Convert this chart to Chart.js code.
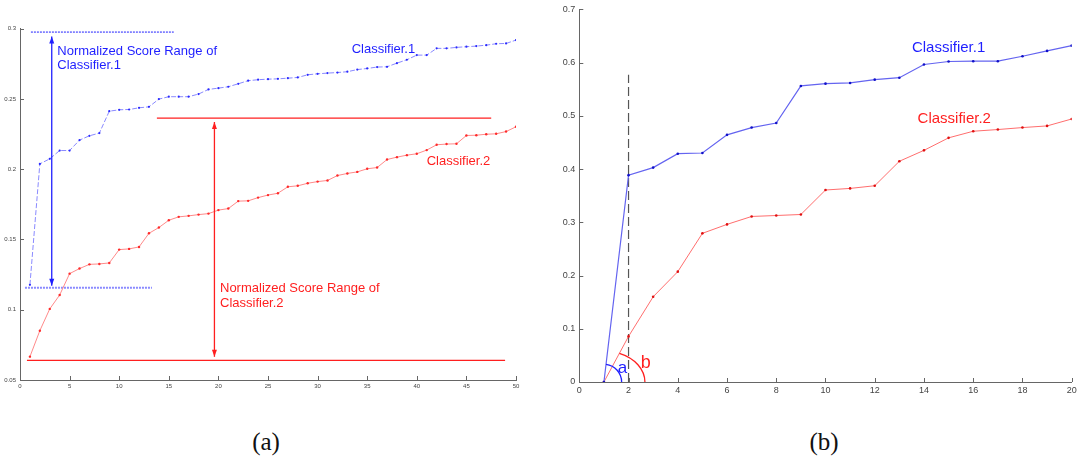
<!DOCTYPE html>
<html>
<head>
<meta charset="utf-8">
<script src="https://cdn.jsdelivr.net/npm/chart.js@4"></script>
<style>
  html, body { margin: 0; padding: 0; background: #fff; }
  body { width: 1083px; height: 468px; position: relative; overflow: hidden; }
  canvas { position: absolute; top: 0; }
  #chart-a { left: 0; }
  #chart-b { left: 550px; }
  .caption { position: absolute; top: 428px; font-family: "Liberation Serif", "DejaVu Serif", serif; font-size: 25px; color: #111; transform: translateX(-50%); }
</style>
</head>
<body>
<canvas id="chart-a" width="540" height="400"></canvas>
<canvas id="chart-b" width="533" height="400"></canvas>
<div class="caption" style="left:266px">(a)</div>
<div class="caption" style="left:824px">(b)</div>
<script>
// panel (a): normalized scores over 50 runs
const runsA = [1, 2, 3, 4, 5, 6, 7, 8, 9, 10, 11, 12, 13, 14, 15, 16, 17, 18, 19, 20,
  21, 22, 23, 24, 25, 26, 27, 28, 29, 30, 31, 32, 33, 34, 35, 36, 37, 38, 39, 40,
  41, 42, 43, 44, 45, 46, 47, 48, 49, 50];
const clf1A = [0.1177, 0.2038, 0.2074, 0.2133, 0.2133, 0.2207, 0.2238, 0.2257, 0.2413, 0.2423,
  0.2425, 0.2437, 0.2444, 0.2499, 0.2516, 0.2516, 0.2516, 0.2535, 0.2568, 0.2577,
  0.2587, 0.2608, 0.2630, 0.2637, 0.2641, 0.2643, 0.2648, 0.2653, 0.2672, 0.2679,
  0.2684, 0.2688, 0.2694, 0.2709, 0.2717, 0.2727, 0.2729, 0.2755, 0.2779, 0.2812,
  0.2812, 0.2860, 0.2860, 0.2867, 0.2872, 0.2876, 0.2883, 0.2893, 0.2895, 0.2919];
const clf2A = [0.0666, 0.0851, 0.1006, 0.1105, 0.1257, 0.1293, 0.1323, 0.1326, 0.1333, 0.1428,
  0.1433, 0.1447, 0.1544, 0.1585, 0.1637, 0.1661, 0.1668, 0.1677, 0.1684, 0.1709,
  0.1720, 0.1773, 0.1775, 0.1798, 0.1816, 0.1829, 0.1875, 0.1882, 0.1900, 0.1912,
  0.1920, 0.1955, 0.1970, 0.1981, 0.2003, 0.2012, 0.2069, 0.2086, 0.2100, 0.2110,
  0.2136, 0.2174, 0.2179, 0.2181, 0.2240, 0.2242, 0.2249, 0.2252, 0.2268, 0.2302];
// range markers: [xStart, xEnd, y]
const range1Top = [1.1, 15.5, 0.2976];
const range1Bottom = [0.5, 13.3, 0.1157];
const range2Top = [13.8, 47.5, 0.2364];
const range2Bottom = [0.7, 48.9, 0.0640];

// panel (b): scores over 20 steps
const stepsB = [1, 2, 3, 4, 5, 6, 7, 8, 9, 10, 11, 12, 13, 14, 15, 16, 17, 18, 19, 20];
const clf1B = [0, 0.3886, 0.4028, 0.4289, 0.4302, 0.4643, 0.4780, 0.4866, 0.5562, 0.5605,
  0.5618, 0.5680, 0.5717, 0.5965, 0.6021, 0.6027, 0.6027, 0.6120, 0.6220, 0.6319];
const clf2B = [0, 0.0857, 0.1601, 0.2073, 0.2793, 0.2961, 0.3110, 0.3128, 0.3147, 0.3607,
  0.3637, 0.3687, 0.4147, 0.4352, 0.4587, 0.4711, 0.4743, 0.4780, 0.4811, 0.4941];
const markerB = [2, 0, 0.5773]; // x, yFrom, yTo

const BLUE = '#1f1fff';
const RED = '#ff1f1f';

function pts(xs, ys) {
  return xs.map((x, i) => ({ x: x, y: ys[i] }));
}
function hline(r) {
  return [{ x: r[0], y: r[2] }, { x: r[1], y: r[2] }];
}

// short tick marks pointing into the plot, like the old MATLAB axes
const inwardTicks = {
  id: 'inwardTicks',
  afterDraw(chart) {
    const { ctx, chartArea: area, scales: { x, y } } = chart;
    ctx.save();
    ctx.strokeStyle = '#666';
    ctx.lineWidth = 1;
    ctx.beginPath();
    x.ticks.forEach(t => {
      const px = Math.round(x.getPixelForValue(t.value)) + 0.5;
      ctx.moveTo(px, area.bottom);
      ctx.lineTo(px, area.bottom - 4);
    });
    y.ticks.forEach(t => {
      const py = Math.round(y.getPixelForValue(t.value)) + 0.5;
      ctx.moveTo(area.left, py);
      ctx.lineTo(area.left + 4, py);
    });
    ctx.stroke();
    ctx.restore();
  }
};

// free text, arrows and angle arcs placed in data coordinates
const notes = {
  id: 'notes',
  afterDatasetsDraw(chart, args, opts) {
    const { ctx, scales: { x, y } } = chart;
    ctx.save();
    (opts.arrows || []).forEach(a => {
      const px = x.getPixelForValue(a.x);
      const p1 = y.getPixelForValue(a.y1);
      const p2 = y.getPixelForValue(a.y2);
      ctx.strokeStyle = a.color;
      ctx.fillStyle = a.color;
      ctx.lineWidth = 1.3;
      ctx.beginPath();
      ctx.moveTo(px, p1);
      ctx.lineTo(px, p2);
      ctx.stroke();
      [[p1, 1], [p2, -1]].forEach(([tip, dir]) => {
        ctx.beginPath();
        ctx.moveTo(px, tip);
        ctx.lineTo(px - 2.5, tip + dir * 7);
        ctx.lineTo(px + 2.5, tip + dir * 7);
        ctx.closePath();
        ctx.fill();
      });
    });
    // elliptical arc from the x axis up to the first segment of a series
    (opts.arcs || []).forEach(a => {
      const cx = x.getPixelForValue(a.cx);
      const cy = y.getPixelForValue(a.cy);
      const dx = x.getPixelForValue(a.tx) - cx;
      const dy = cy - y.getPixelForValue(a.ty);
      const t = Math.atan2(a.rx * dy, a.ry * dx);
      ctx.strokeStyle = a.color;
      ctx.lineWidth = 1.3;
      ctx.beginPath();
      ctx.ellipse(cx, cy, a.rx, a.ry, 0, -t, 0);
      ctx.stroke();
    });
    (opts.texts || []).forEach(t => {
      ctx.font = t.font;
      ctx.fillStyle = t.color;
      ctx.textAlign = t.align || 'left';
      ctx.textBaseline = 'middle';
      ctx.fillText(t.text, x.getPixelForValue(t.x), y.getPixelForValue(t.y));
    });
    ctx.restore();
  }
};

function axis(min, max, step, fontSize, fitSize, isX) {
  return {
    type: 'linear',
    min: min,
    max: max,
    grid: { display: false, drawTicks: false },
    border: { display: true, color: '#666', width: 1 },
    ticks: {
      stepSize: step,
      color: '#444',
      padding: isX ? 3 : 4,
      maxRotation: 0,
      autoSkip: false,
      font: { family: 'Liberation Sans, Arial, sans-serif', size: fontSize },
      // 0.3 rather than 0.30
      callback: v => String(parseFloat(v.toFixed(2)))
    },
    afterFit(scale) {
      if (isX) scale.height = fitSize; else scale.width = fitSize;
    }
  };
}

const refLine = (data, color, width, dash) => ({
  data: data,
  borderColor: color,
  borderWidth: width,
  borderDash: dash,
  pointRadius: 0
});

const labelFont = size => size + 'px Liberation Sans, Arial, sans-serif';

new Chart(document.getElementById('chart-a'), {
  type: 'line',
  data: {
    datasets: [
      {
        data: pts(runsA, clf1A),
        borderColor: '#8a8aff',
        borderWidth: 1,
        borderDash: [5, 2],
        pointRadius: 1.1,
        pointBackgroundColor: '#2a2aff',
        pointBorderWidth: 0
      },
      {
        data: pts(runsA, clf2A),
        borderColor: '#ff8a8a',
        borderWidth: 1,
        pointRadius: 1.2,
        pointBackgroundColor: '#ff2a2a',
        pointBorderWidth: 0
      },
      refLine(hline(range1Top), BLUE, 1, [2, 1]),
      refLine(hline(range1Bottom), '#8a8aff', 2, [2, 1]),
      refLine(hline(range2Top), RED, 1.3, []),
      refLine(hline(range2Bottom), RED, 1.3, [])
    ]
  },
  options: {
    responsive: false,
    animation: false,
    layout: { padding: { top: 28.7, right: 24, left: 0, bottom: 0 } },
    plugins: {
      legend: { display: false },
      tooltip: { enabled: false },
      notes: {
        arrows: [
          { x: 3.2, y1: 0.2945, y2: 0.1170, color: BLUE },
          { x: 19.6, y1: 0.2336, y2: 0.0665, color: RED }
        ],
        texts: [
          { text: 'Normalized Score Range of', x: 3.76, y: 0.2838, color: BLUE, font: labelFont(13) },
          { text: 'Classifier.1', x: 3.76, y: 0.2739, color: BLUE, font: labelFont(13) },
          { text: 'Classifier.1', x: 33.43, y: 0.2850, color: BLUE, font: labelFont(13) },
          { text: 'Classifier.2', x: 41.0, y: 0.2053, color: RED, font: labelFont(13) },
          { text: 'Normalized Score Range of', x: 20.16, y: 0.1153, color: RED, font: labelFont(13) },
          { text: 'Classifier.2', x: 20.16, y: 0.1046, color: RED, font: labelFont(13) }
        ]
      }
    },
    scales: {
      x: axis(0, 50, 5, 6, 20, true),
      y: axis(0.05, 0.3, 0.05, 6, 20, false)
    }
  },
  plugins: [notes, inwardTicks]
});

new Chart(document.getElementById('chart-b'), {
  type: 'line',
  data: {
    datasets: [
      {
        data: pts(stepsB, clf1B),
        borderColor: '#6464f0',
        borderWidth: 1.2,
        pointRadius: 1.3,
        pointBackgroundColor: '#1010c8',
        pointBorderWidth: 0
      },
      {
        data: pts(stepsB, clf2B),
        borderColor: '#ff6e6e',
        borderWidth: 1,
        pointRadius: 1.3,
        pointBackgroundColor: '#e01010',
        pointBorderWidth: 0
      },
      refLine([{ x: markerB[0], y: markerB[1] }, { x: markerB[0], y: markerB[2] }], '#555', 1.2, [9, 4])
    ]
  },
  options: {
    responsive: false,
    animation: false,
    layout: { padding: { top: 6, right: 11.3, left: 0, bottom: 0 } },
    plugins: {
      legend: { display: false },
      tooltip: { enabled: false },
      notes: {
        arcs: [
          { cx: stepsB[0], cy: clf1B[0], tx: stepsB[1], ty: clf1B[1], rx: 17.7, ry: 17.7, color: BLUE },
          { cx: stepsB[0], cy: clf2B[0], tx: stepsB[1], ty: clf2B[1], rx: 41, ry: 31, color: RED }
        ],
        texts: [
          { text: 'Classifier.1', x: 15.0, y: 0.627, color: BLUE, align: 'center', font: labelFont(15) },
          { text: 'Classifier.2', x: 15.23, y: 0.494, color: RED, align: 'center', font: labelFont(15) },
          { text: 'a', x: 1.75, y: 0.0255, color: BLUE, align: 'center', font: labelFont(17) },
          { text: 'b', x: 2.70, y: 0.0348, color: RED, align: 'center', font: labelFont(18) }
        ]
      }
    },
    scales: {
      x: axis(0, 20, 2, 9, 18, true),
      y: axis(0, 0.7, 0.1, 9, 29.3, false)
    }
  },
  plugins: [notes, inwardTicks]
});
</script>
</body>
</html>
